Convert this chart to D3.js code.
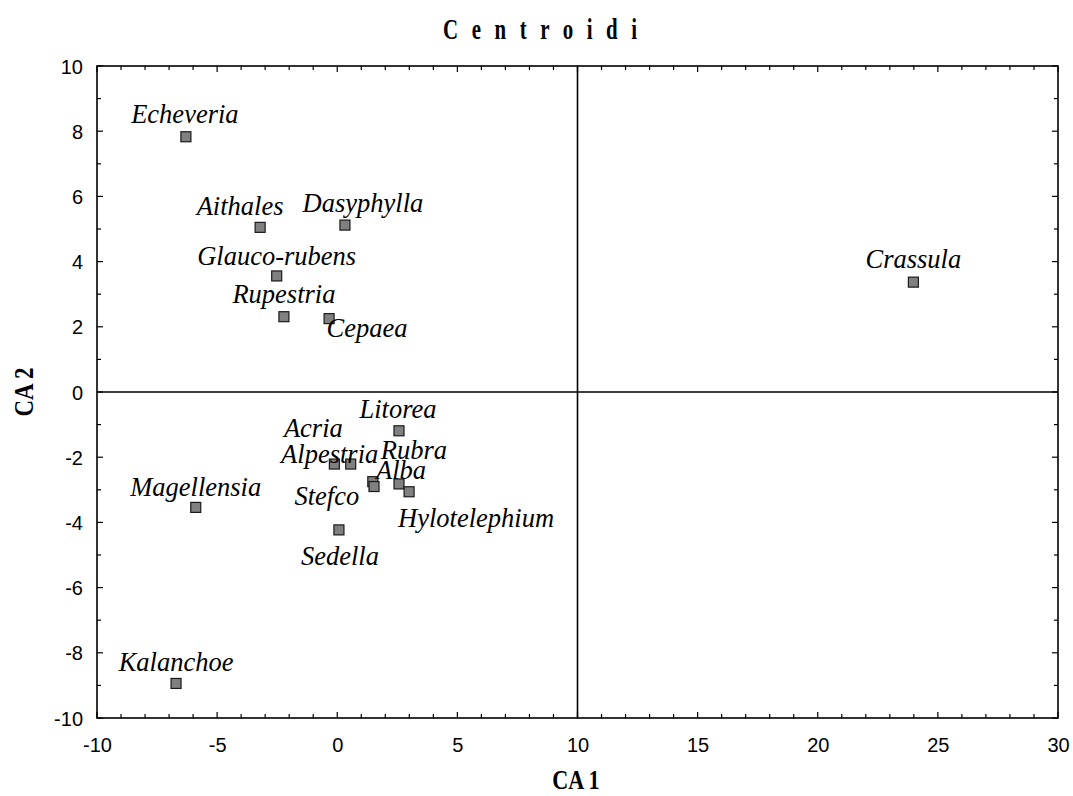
<!DOCTYPE html>
<html>
<head>
<meta charset="utf-8">
<script src="https://cdn.jsdelivr.net/npm/d3@7"></script>
<style>
  html, body { margin: 0; padding: 0; background: #fff; }
  svg { display: block; }
</style>
</head>
<body>
<svg id="chart" width="1073" height="796"></svg>
<script>
// Group centroids on the first two canonical axes
const names = ["Echeveria", "Aithales", "Dasyphylla", "Glauco-rubens", "Rupestria", "Cepaea",
  "Crassula", "Litorea", "Acria", "Alpestria", "Stefco", "Alba", "Rubra", "Hylotelephium",
  "Sedella", "Magellensia", "Kalanchoe"];
const ca1 = [-6.30, -3.21, 0.32, -2.52, -2.22, -0.34, 23.98, 2.57, -0.12, 0.56, 1.48, 1.53, 2.57, 2.99, 0.07, -5.89, -6.71];
const ca2 = [7.83, 5.05, 5.12, 3.56, 2.31, 2.25, 3.37, -1.19, -2.21, -2.21, -2.75, -2.90, -2.82, -3.06, -4.23, -3.54, -8.94];

const xTicks = [-10, -5, 0, 5, 10, 15, 20, 25, 30];
const yTicks = [-10, -8, -6, -4, -2, 0, 2, 4, 6, 8, 10];

// label placement relative to each marker (pixels: dx to text centre, dy to baseline)
const labelShift = {
  "Echeveria": [-1, -14], "Aithales": [-20, -12], "Dasyphylla": [18, -13],
  "Glauco-rubens": [0, -11], "Rupestria": [0, -14], "Cepaea": [38, 18],
  "Crassula": [0, -14], "Litorea": [-1, -13], "Acria": [-21, -27], "Alpestria": [-21, -1],
  "Stefco": [-46, 23], "Alba": [27, -8], "Rubra": [15, -25], "Hylotelephium": [67, 35],
  "Sedella": [1, 35], "Magellensia": [0, -11], "Kalanchoe": [0, -12]
};

const svg = d3.select("#chart");
const L = 97, R = 1058, T = 66, B = 718;

const x = d3.scaleLinear().domain([-10, 30]).range([L, R]);
const y = d3.scaleLinear().domain([-10, 10]).range([B, T]);

const minorX = d3.range(-10, 31, 1);
const minorY = d3.range(-10, 11, 1);

// inward ticks on all four sides
const g = svg.append("g").attr("stroke", "#000").attr("stroke-width", 1.2);
minorX.forEach(v => {
  const len = v % 5 === 0 ? 6 : 4;
  g.append("line").attr("x1", x(v)).attr("x2", x(v)).attr("y1", B).attr("y2", B - len);
  g.append("line").attr("x1", x(v)).attr("x2", x(v)).attr("y1", T).attr("y2", T + len);
});
minorY.forEach(v => {
  const len = v % 2 === 0 ? 6 : 4;
  g.append("line").attr("y1", y(v)).attr("y2", y(v)).attr("x1", L).attr("x2", L + len);
  g.append("line").attr("y1", y(v)).attr("y2", y(v)).attr("x1", R).attr("x2", R - len);
});

// tick labels via d3 axes (no tick lines or domain)
const fmt = d => String(d);
const xAxis = svg.append("g").attr("transform", `translate(0,${B})`)
  .call(d3.axisBottom(x).tickValues(xTicks).tickSize(0).tickPadding(20).tickFormat(fmt));
const yAxis = svg.append("g").attr("transform", `translate(${L},0)`)
  .call(d3.axisLeft(y).tickValues(yTicks).tickSize(0).tickPadding(14).tickFormat(fmt));
[xAxis, yAxis].forEach(a => {
  a.select(".domain").remove();
  a.selectAll("text").attr("font-family", "Liberation Sans, Arial, sans-serif")
    .attr("font-size", 20).attr("fill", "#000");
});
xAxis.selectAll("text").attr("dy", "0.71em").attr("y", 20);
yAxis.selectAll("text").attr("dy", "0.35em");

// zero reference lines
svg.append("line").attr("x1", x(10)).attr("x2", x(10)).attr("y1", T).attr("y2", B)
  .attr("stroke", "#000").attr("stroke-width", 1.6);
svg.append("line").attr("x1", L).attr("x2", R).attr("y1", y(0)).attr("y2", y(0))
  .attr("stroke", "#000").attr("stroke-width", 1.6);

// frame
svg.append("rect").attr("x", L).attr("y", T).attr("width", R - L).attr("height", B - T)
  .attr("fill", "none").attr("stroke", "#000").attr("stroke-width", 1.6);

const pts = names.map((n, i) => ({ name: n, cx: ca1[i], cy: ca2[i] }));

// markers
const S = 10;
svg.append("g").selectAll("rect").data(pts).join("rect")
  .attr("x", d => x(d.cx) - S / 2).attr("y", d => y(d.cy) - S / 2)
  .attr("width", S).attr("height", S)
  .attr("fill", "#808080").attr("stroke", "#1a1a1a").attr("stroke-width", 1.2);

// group names
svg.append("g").selectAll("text").data(pts).join("text")
  .attr("x", d => x(d.cx) + labelShift[d.name][0])
  .attr("y", d => y(d.cy) + labelShift[d.name][1])
  .attr("text-anchor", "middle")
  .attr("font-family", "Liberation Serif, Times New Roman, serif")
  .attr("font-style", "italic").attr("font-size", 26.5).attr("fill", "#000")
  .text(d => d.name);

// title: narrow bold glyphs, widely spaced
const sx = 0.72;
svg.append("text").attr("transform", `translate(540,39) scale(${sx},1)`).attr("text-anchor", "middle")
  .attr("font-family", "Liberation Serif, Times New Roman, serif").attr("font-weight", "bold")
  .attr("font-size", 29).attr("textLength", 194 / sx).attr("lengthAdjust", "spacing")
  .text("Centroidi");

svg.append("text").attr("transform", "translate(576,789) scale(0.82,1)").attr("text-anchor", "middle")
  .attr("font-family", "Liberation Serif, Times New Roman, serif").attr("font-weight", "bold")
  .attr("font-size", 27)
  .text("CA 1");

svg.append("text").attr("transform", "translate(33,392) rotate(-90) scale(0.82,1)").attr("text-anchor", "middle")
  .attr("font-family", "Liberation Serif, Times New Roman, serif").attr("font-weight", "bold")
  .attr("font-size", 28)
  .text("CA 2");
</script>
</body>
</html>
